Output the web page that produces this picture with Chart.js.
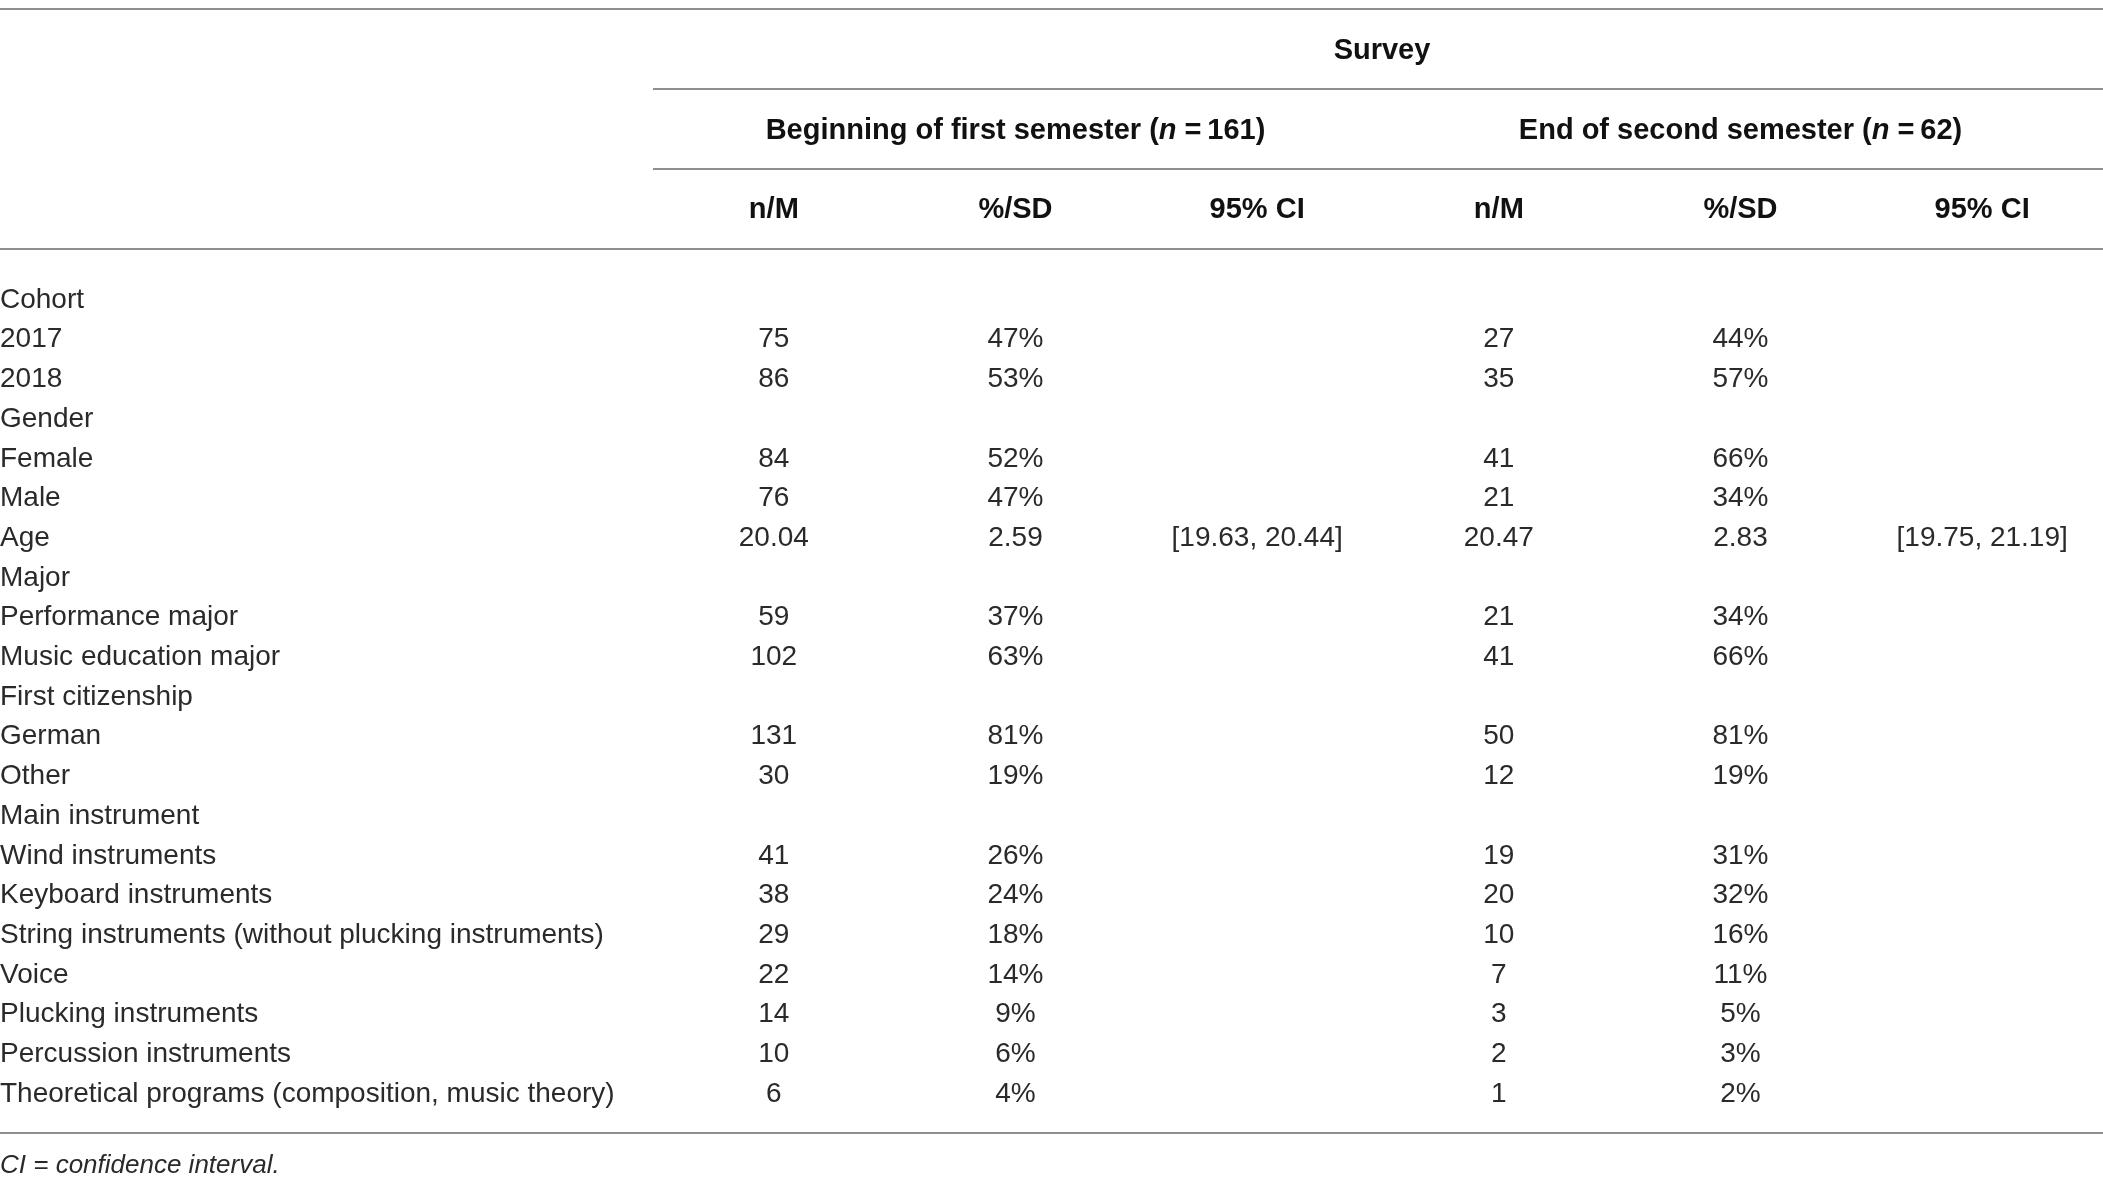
<!DOCTYPE html>
<html>
<head>
<meta charset="utf-8">
<script src="https://cdn.jsdelivr.net/npm/chart.js@4.4.1/dist/chart.umd.min.js"></script>
<style>
  html, body { margin: 0; padding: 0; background: #fff; }
  canvas { display: block; }
</style>
</head>
<body>
<canvas id="table" width="2103" height="1188"></canvas>
<script>
// table content
const surveyTitle = 'Survey'
const groupTitles = ['Beginning of first semester', 'End of second semester']
const groupN = [161, 62]
const colHeaders = ['n/M', '%/SD', '95% CI', 'n/M', '%/SD', '95% CI']
const rowLabels = [
  'Cohort', '2017', '2018', 'Gender', 'Female', 'Male', 'Age', 'Major',
  'Performance major', 'Music education major', 'First citizenship', 'German', 'Other',
  'Main instrument', 'Wind instruments', 'Keyboard instruments',
  'String instruments (without plucking instruments)', 'Voice', 'Plucking instruments',
  'Percussion instruments', 'Theoretical programs (composition, music theory)'
]
const meanRow = 'Age'

const firstN    = [null, 75, 86, null, 84, 76, 20.04, null, 59, 102, null, 131, 30, null, 41, 38, 29, 22, 14, 10, 6]
const firstPct  = [null, 47, 53, null, 52, 47, 2.59, null, 37, 63, null, 81, 19, null, 26, 24, 18, 14, 9, 6, 4]
const firstCI   = [null, null, null, null, null, null, [19.63, 20.44], null, null, null, null, null, null, null, null, null, null, null, null, null, null]
const secondN   = [null, 27, 35, null, 41, 21, 20.47, null, 21, 41, null, 50, 12, null, 19, 20, 10, 7, 3, 2, 1]
const secondPct = [null, 44, 57, null, 66, 34, 2.83, null, 34, 66, null, 81, 19, null, 31, 32, 16, 11, 5, 3, 2]
const secondCI  = [null, null, null, null, null, null, [19.75, 21.19], null, null, null, null, null, null, null, null, null, null, null, null, null, null]

const columns = [firstN, firstPct, firstCI, secondN, secondPct, secondCI]
const colKinds = ['n', 'pct', 'ci', 'n', 'pct', 'ci']

const FONT = '"Liberation Sans", Arial, Helvetica, sans-serif'
const INK = '#2a2a2a'
const RULE = '#8f8f8f'
const BOLD = 'bold 29px ' + FONT

function formatCell(kind, v, row) {
  const isMean = rowLabels[row] === meanRow
  if (kind === 'ci') return '[' + v[0].toFixed(2) + ', ' + v[1].toFixed(2) + ']'
  if (isMean) return v.toFixed(2)
  return kind === 'pct' ? v + '%' : String(v)
}

const datasets = columns.map((col, k) => ({
  data: col
    .map((v, r) => v === null ? null : { x: k, y: rowLabels[r], text: formatCell(colKinds[k], v, r) })
    .filter(d => d !== null),
  pointRadius: 0,
  showLine: false,
}))

const tablePlugin = {
  id: 'tableText',
  afterDatasetsDraw(chart) {
    const { ctx, chartArea, scales: { x } } = chart
    const W = chart.width
    ctx.save()
    ctx.fillStyle = INK
    ctx.textBaseline = 'middle'

    // body cells, placed where the scales put each point
    ctx.font = '28px ' + FONT
    ctx.textAlign = 'center'
    chart.data.datasets.forEach((ds, i) => {
      chart.getDatasetMeta(i).data.forEach((pt, j) => {
        ctx.fillText(ds.data[j].text, pt.x, pt.y)
      })
    })

    // column headers
    ctx.fillStyle = '#111'
    ctx.font = BOLD
    colHeaders.forEach((h, k) => ctx.fillText(h, x.getPixelForValue(k), 210))

    // spanning headers
    ctx.fillText(surveyTitle, (x.getPixelForValue(0) + x.getPixelForValue(5)) / 2 + 4, 51)
    groupTitles.forEach((t, g) => {
      const parts = [
        [t + ' (', BOLD],
        ['n', 'italic ' + BOLD],
        [' =\u2009' + groupN[g] + ')', BOLD],
      ]
      let total = 0
      parts.forEach(p => { ctx.font = p[1]; total += ctx.measureText(p[0]).width })
      let cx = x.getPixelForValue(g * 3 + 1) - total / 2
      ctx.textAlign = 'left'
      parts.forEach(p => {
        ctx.font = p[1]
        ctx.fillText(p[0], cx, 131)
        cx += ctx.measureText(p[0]).width
      })
      ctx.textAlign = 'center'
    })

    // rules
    ctx.strokeStyle = RULE
    ctx.lineWidth = 2
    const rule = (x0, y) => { ctx.beginPath(); ctx.moveTo(x0, y); ctx.lineTo(W, y); ctx.stroke() }
    rule(0, 9)
    rule(chartArea.left, 89)
    rule(chartArea.left, 169)
    rule(0, 249)
    rule(0, chartArea.bottom + 39)

    // footnote
    ctx.fillStyle = INK
    ctx.textAlign = 'left'
    ctx.font = 'italic 26px ' + FONT
    ctx.fillText('CI = confidence interval.', 0, chartArea.bottom + 72)
    ctx.restore()
  }
}

new Chart(document.getElementById('table'), {
  type: 'scatter',
  data: { datasets },
  options: {
    responsive: false,
    animation: false,
    devicePixelRatio: 1,
    events: [],
    layout: { padding: { top: 300, bottom: 94, left: 0, right: 0 } },
    plugins: { legend: { display: false }, tooltip: { enabled: false } },
    scales: {
      x: { type: 'linear', min: -0.5, max: 5.5, display: false },
      y: {
        type: 'category',
        labels: rowLabels,
        offset: false,
        position: 'left',
        grid: { display: false },
        border: { display: false },
        afterFit: scale => { scale.width = 653 },
        ticks: {
          autoSkip: false,
          crossAlign: 'far',
          padding: 0,
          color: INK,
          font: { family: FONT, size: 28 },
        },
      },
    },
  },
  plugins: [tablePlugin],
})
</script>
</body>
</html>
